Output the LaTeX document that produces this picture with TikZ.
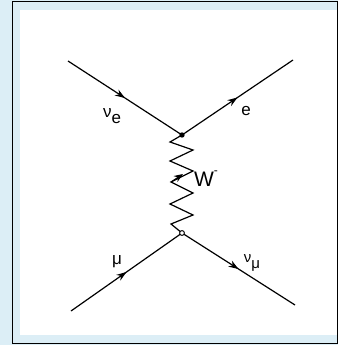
\documentclass[tikz,border=0pt]{standalone}
\usepackage{fontspec}
\setmainfont{Liberation Sans}
\usetikzlibrary{decorations.markings,arrows.meta}
\definecolor{bgblue}{HTML}{DCEEF6}
\tikzset{
  fermion/.style={line width=1.2pt, postaction={decorate}, decoration={markings, mark=at position #1 with {\arrow{Stealth[length=10pt,width=7pt]}}}},
  lbl/.style={font=\fontsize{17}{20}\selectfont, inner sep=0pt}
}
\begin{document}
\begin{tikzpicture}[x=1pt,y=-1pt]
\useasboundingbox (0,0) rectangle (338,345);
\fill[bgblue] (0,0) rectangle (338,345);
\fill[white] (20,10) rectangle (338,335);
\draw[line width=1pt] (12,2) rectangle (337.5,343);
\coordinate (a) at (68,61);
\coordinate (b) at (293,60);
\coordinate (c) at (71,311);
\coordinate (d) at (295,305);
\coordinate (v1) at (182,135);
\coordinate (v2) at (182,233);
\draw[fermion=0.5] (a) -- (v1);
\draw[fermion=0.5] (v1) -- (b);
\draw[fermion=0.5] (c) -- (v2);
\draw[fermion=0.5] (v2) -- (d);
\draw[line width=1.2pt, line join=miter]
  (v1) -- (170,142) -- (193,150) -- (170,161) -- (193,171) -- (171,182)
  -- (193,193) -- (170,204) -- (193,215) -- (171,224) -- (v2);
\draw[line width=1pt, -{Stealth[length=9pt,width=7pt]}] (171,182) -- (183,174);
\fill (v1) circle (2.7);
\draw[line width=1pt, fill=white] (v2) circle (2.4);
\node[lbl] (nue) at (112,116) {ν\raisebox{-0.7ex}{e}};
\node[lbl] (e) at (246,111) {e};
\node[lbl, font=\fontsize{21}{22}\selectfont] (W) at (206,179) {W\raisebox{1.1ex}{\fontsize{12}{12}\selectfont -}};
\node[lbl] (mu) at (117,262) {μ};
\node[lbl, font=\fontsize{15}{16}\selectfont] (numu) at (252,263) {ν\raisebox{-0.7ex}{μ}};
\end{tikzpicture}
\end{document}
